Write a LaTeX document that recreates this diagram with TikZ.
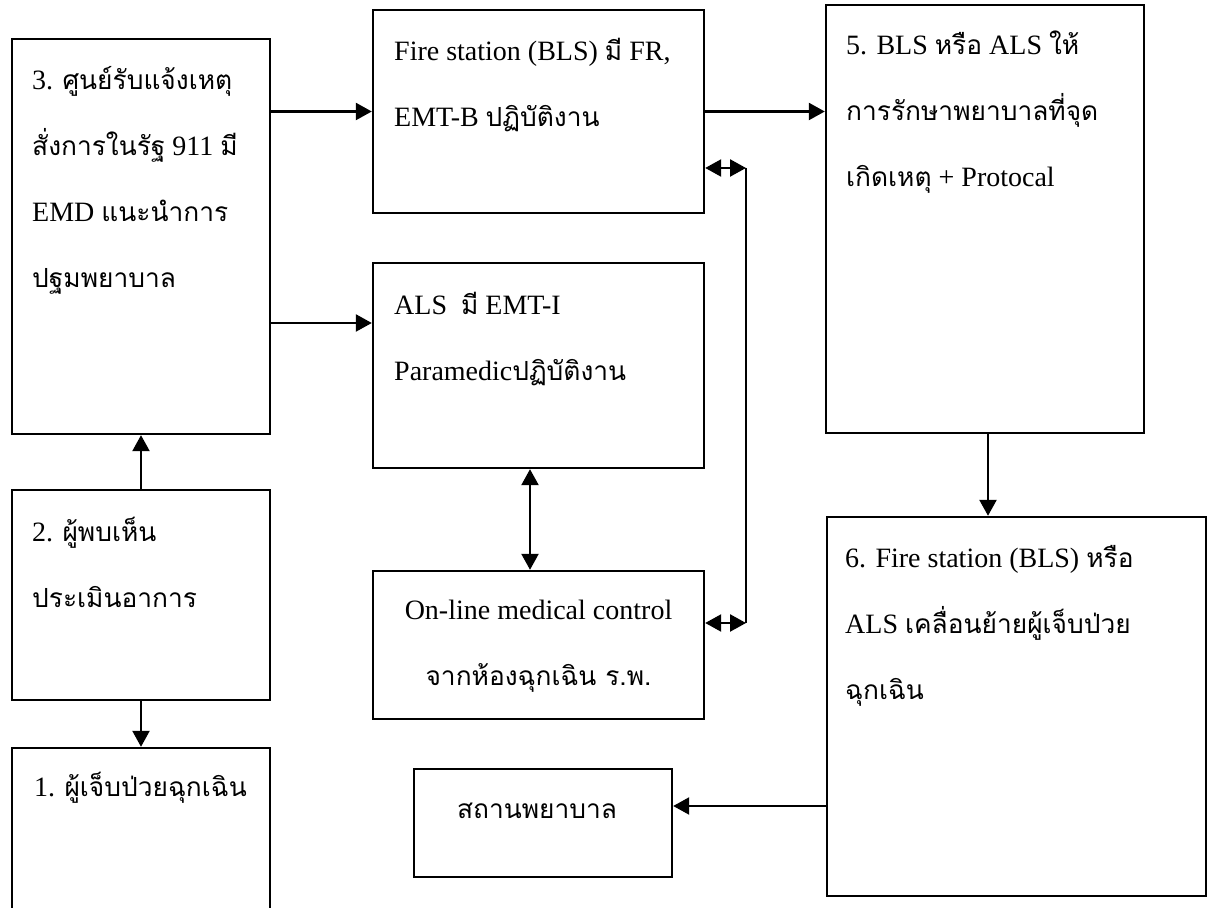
\documentclass[tikz,border=0pt]{standalone}
\usepackage{fontspec}
\setmainfont{Liberation Serif}
\newfontfamily\thai[Script=Thai,Scale=0.94]{Loma}
\usetikzlibrary{arrows.meta,fit,calc}

\tikzset{
  box/.style={draw, line width=1.2pt, inner sep=0pt},
  lbl/.style={inner sep=0pt, anchor=north west, align=left,
    font=\fontsize{14}{33}\selectfont},
  clbl/.style={lbl, anchor=north, align=center},
  tip/.tip={Triangle[length=8pt,width=8.5pt]},
  arr/.style={line width=1.2pt, -tip},
  darr/.style={line width=1.2pt, tip-tip},
}
% fixed height for the first line, so every label starts at the same depth
\newcommand\fst{\rule{0pt}{20pt}}

\begin{document}
\begin{tikzpicture}[x=0.5pt, y=-0.5pt]
  \useasboundingbox (0,0) rectangle (1216,908);
  \clip (0,0) rectangle (1216,908);

  % boxes
  \node[box, fit={(12,39) (270,434)}]    (b3)  {};
  \node[box, fit={(12,490) (270,700)}]   (b2)  {};
  \node[box, fit={(12,748) (270,920)}]   (b1)  {};
  \node[box, fit={(373,10) (704,213)}]   (fs)  {};
  \node[box, fit={(373,263) (704,468)}]  (als) {};
  \node[box, fit={(373,571) (704,719)}]  (onl) {};
  \node[box, fit={(414,769) (672,877)}]  (hos) {};
  \node[box, fit={(826,5) (1144,433)}]   (b5)  {};
  \node[box, fit={(827,517) (1206,896)}] (b6)  {};

  % labels
  \node[lbl] (t3) at ($(b3.north west)+(21,11)$)
    {\fst 3. {\thai ศูนย์รับแจ้งเหตุ}\\ {\thai สั่งการในรัฐ} 911 {\thai มี}\\ EMD {\thai แนะนำการ}\\ {\thai ปฐมพยาบาล}};
  \node[lbl] (t2) at ($(b2.north west)+(21,12)$)
    {\fst 2. {\thai ผู้พบเห็น}\\ {\thai ประเมินอาการ}};
  \node[lbl] (t1) at ($(b1.north west)+(23,9)$)
    {\fst 1. {\thai ผู้เจ็บป่วยฉุกเฉิน}};
  \node[lbl] (tfs) at ($(fs.north west)+(22,11)$)
    {\fst Fire station (BLS) {\thai มี} FR,\\ EMT-B {\thai ปฏิบัติงาน}};
  \node[lbl] (tals) at ($(als.north west)+(22,12)$)
    {\fst ALS\ \ {\thai มี} EMT-I\\ Paramedic{\thai ปฏิบัติงาน}};
  \node[clbl] (tonl) at ($(onl.north)+(0,9)$)
    {\fst On-line medical control\\ {\thai จากห้องฉุกเฉิน ร.พ.}};
  \node[clbl] (thos) at ($(hos.north)+(-6,10)$)
    {\fst {\thai สถานพยาบาล}};
  \node[lbl] (t5) at ($(b5.north west)+(21,10)$)
    {\fst 5. BLS {\thai หรือ} ALS {\thai ให้}\\ {\thai การรักษาพยาบาลที่จุด}\\ {\thai เกิดเหตุ} + Protocal};
  \node[lbl] (t6) at ($(b6.north west)+(19,11)$)
    {\fst 6. Fire station (BLS) {\thai หรือ}\\ ALS {\thai เคลื่อนย้ายผู้เจ็บป่วย}\\ {\thai ฉุกเฉิน}};

  % helper points for connectors
  \coordinate (r3)  at (0,323);
  \coordinate (cx)  at (530,0);
  \coordinate (tr)  at (746,168);
  \coordinate (br)  at (746,623);
  \coordinate (hy)  at (0,806);
  \coordinate (x56) at (988,0);

  % connectors
  \draw[arr] (b2.north) -- (b3.south);
  \draw[arr] (b2.south) -- (b1.north);
  \draw[arr] (b3.east |- fs.west) -- (fs.west);
  \draw[arr] (b3.east |- r3) -- (als.west |- r3);
  \draw[arr] (fs.east) -- (b5.west |- fs.east);
  \draw[darr] (als.south -| cx) -- (onl.north -| cx);
  \draw[darr] (fs.east |- tr) -- (tr);
  \draw[line width=1.2pt] (tr) -- (br);
  \draw[darr] (onl.east |- br) -- (br);
  \draw[arr] (b5.south -| x56) -- (b6.north -| x56);
  \draw[arr] (b6.west |- hy) -- (hos.east |- hy);
\end{tikzpicture}
\end{document}
